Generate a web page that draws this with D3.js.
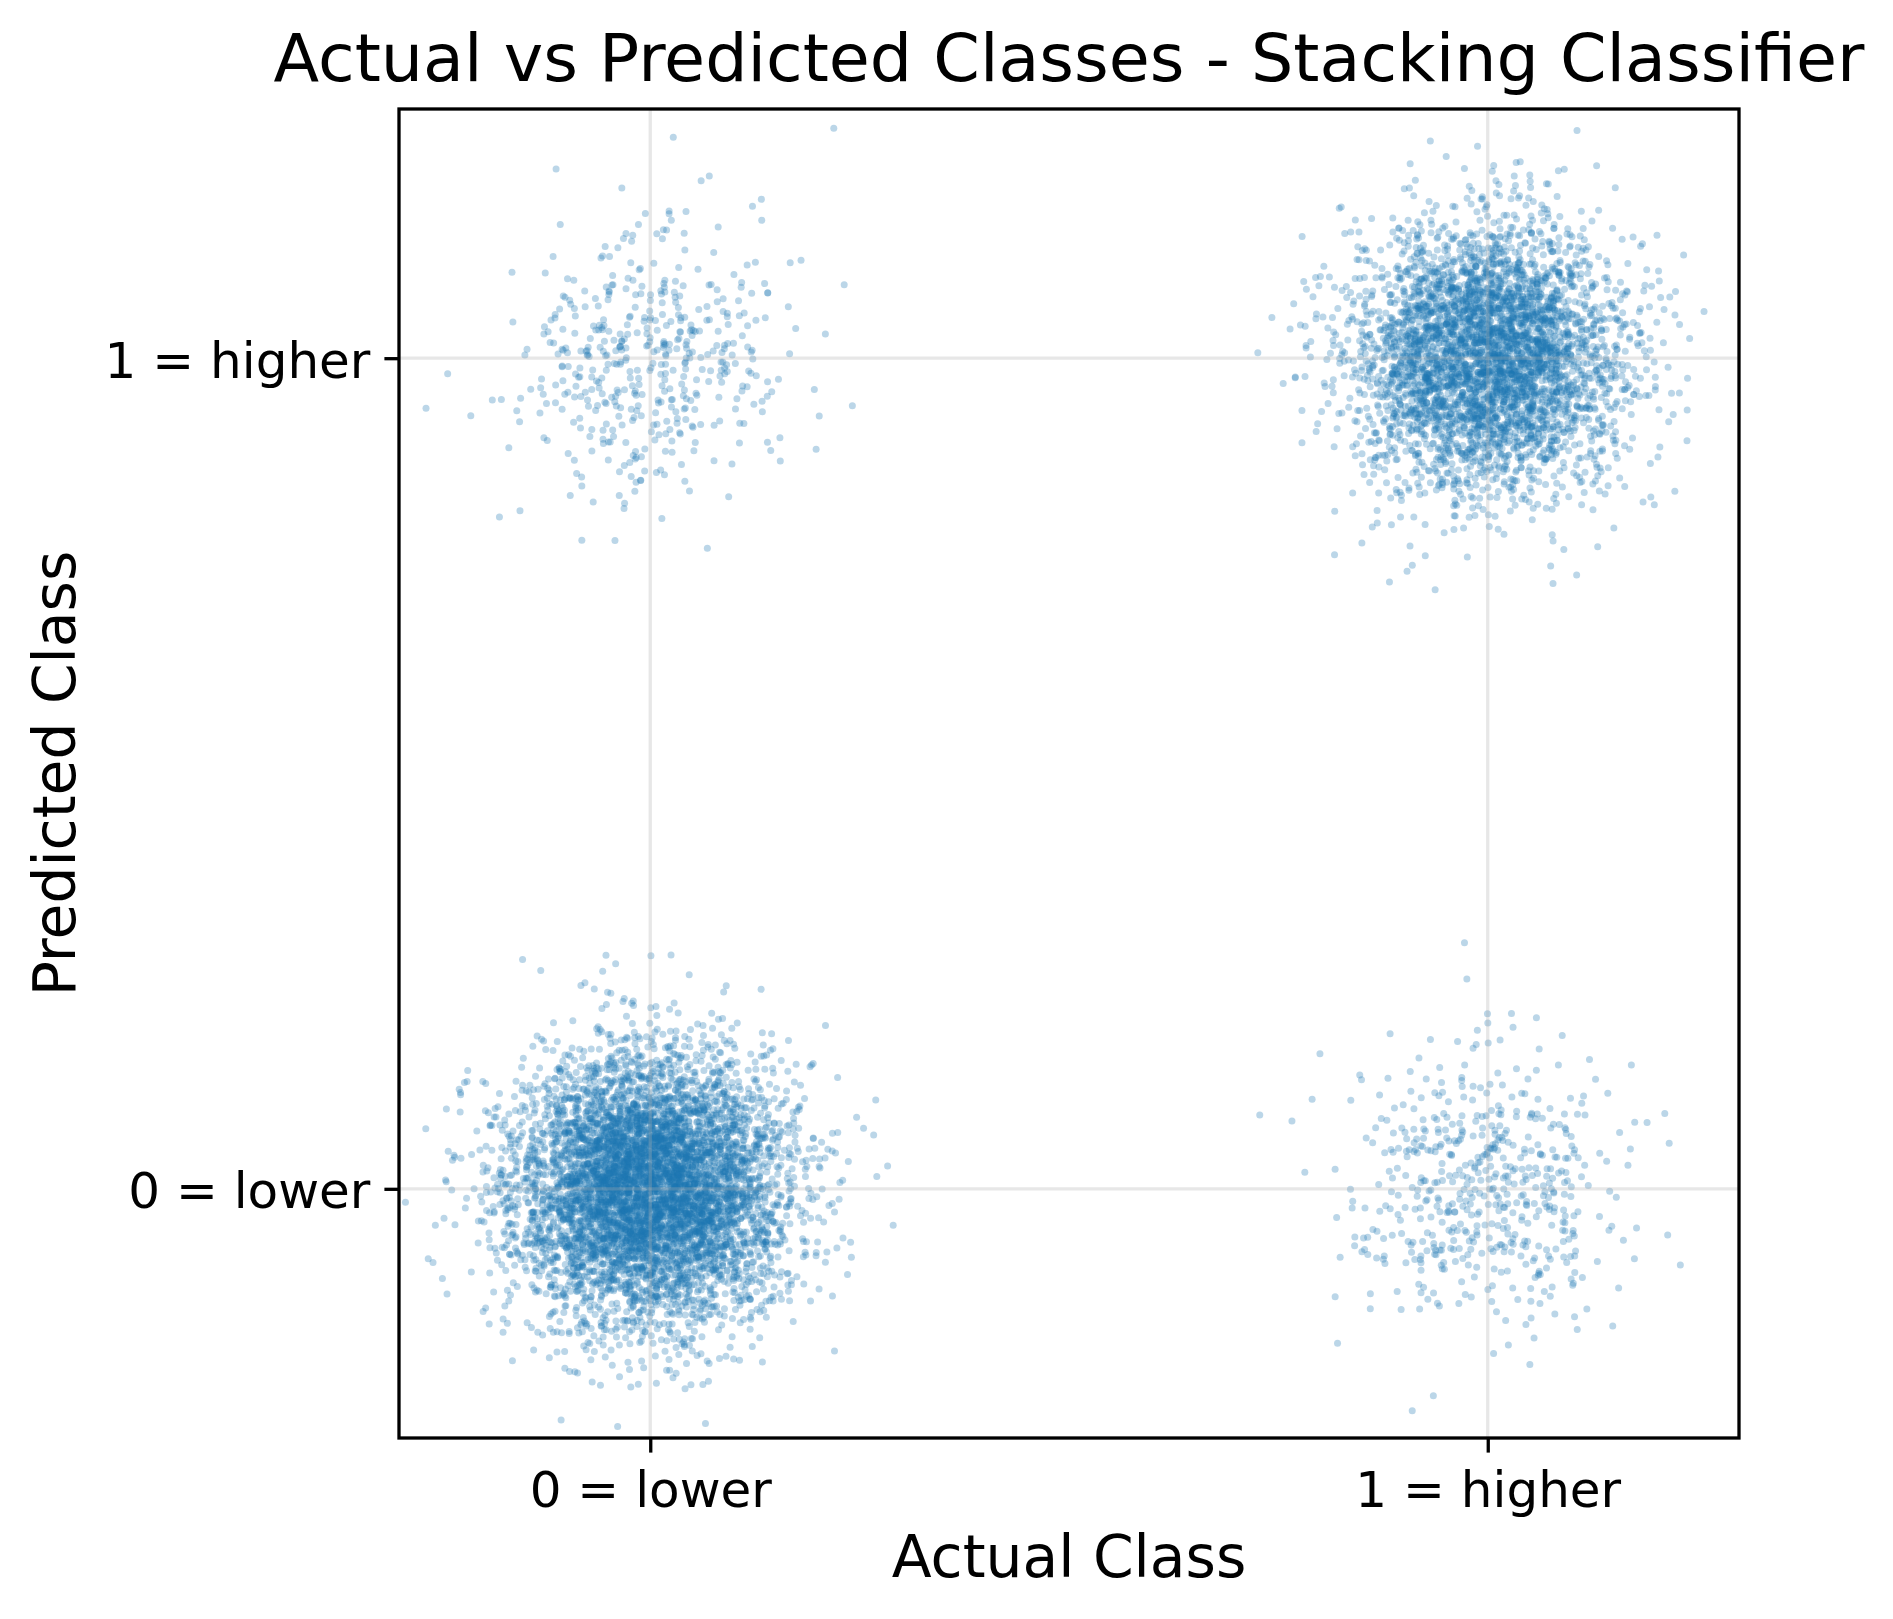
<!DOCTYPE html>
<html>
<head>
<meta charset="utf-8">
<script src="https://cdn.jsdelivr.net/npm/d3@7"></script>
<style>
  html, body { margin: 0; padding: 0; background: #fff; }
  svg { display: block; }
  text { font-family: "DejaVu Sans", sans-serif; fill: #000; }
</style>
</head>
<body>
<svg id="chart" width="1893" height="1619"></svg>
<script>
// ---- data ----
const classLabels = ["0 = lower", "1 = higher"];      // tick labels on both axes
const classValues = [0, 1];
// confusion-matrix cells: actual class, predicted class, number of jittered points
const cellActual    = [0, 0, 1, 1];
const cellPredicted = [0, 1, 0, 1];
const cellCounts    = [6200, 480, 560, 4100];
const jitterSd = 0.08;           // jitter spread used in the plot
const titleText = "Actual vs Predicted Classes - Stacking Classifier";
const xLabelText = "Actual Class";
const yLabelText = "Predicted Class";

// ---- layout ----
const svg = d3.select("#chart");
const m = { left: 399, top: 109, width: 1340, height: 1329 };
const x = d3.scaleLinear().domain([-0.3, 1.3]).range([m.left, m.left + m.width]);
const y = d3.scaleLinear().domain([-0.3, 1.3]).range([m.top + m.height, m.top]);

// build jittered points deterministically (seeded)
const rng = d3.randomNormal.source(d3.randomLcg(0.4217))(0, jitterSd);
const points = [];
cellCounts.forEach((n, i) => {
  for (let k = 0; k < n; k++) {
    points.push({ a: cellActual[i] + rng(), p: cellPredicted[i] + rng() });
  }
});
d3.shuffle(points, d3.randomLcg(0.77));

svg.append("defs").append("clipPath").attr("id", "clip")
  .append("rect").attr("x", m.left).attr("y", m.top)
  .attr("width", m.width).attr("height", m.height);

// points
svg.append("g").attr("clip-path", "url(#clip)")
  .selectAll("circle").data(points).join("circle")
  .attr("cx", d => x(d.a)).attr("cy", d => y(d.p))
  .attr("r", 3.5)
  .attr("fill", "#1f77b4").attr("fill-opacity", 0.3);

// grid (drawn above points like matplotlib)
const grid = svg.append("g");
grid.selectAll("line.gx").data(classValues).join("line")
  .attr("x1", d => x(d)).attr("x2", d => x(d))
  .attr("y1", m.top).attr("y2", m.top + m.height)
  .attr("stroke", "#b0b0b0").attr("stroke-opacity", 0.3).attr("stroke-width", 3.3);
grid.selectAll("line.gy").data(classValues).join("line")
  .attr("y1", d => y(d)).attr("y2", d => y(d))
  .attr("x1", m.left).attr("x2", m.left + m.width)
  .attr("stroke", "#b0b0b0").attr("stroke-opacity", 0.3).attr("stroke-width", 3.3);

// axes
const xAxis = d3.axisBottom(x).tickValues(classValues).tickFormat((d, i) => classLabels[i])
  .tickSize(14.6).tickPadding(14);
const yAxis = d3.axisLeft(y).tickValues(classValues).tickFormat((d, i) => classLabels[i])
  .tickSize(14.6).tickPadding(14);

const gx = svg.append("g").attr("transform", `translate(0,${m.top + m.height})`).call(xAxis);
const gy = svg.append("g").attr("transform", `translate(${m.left},0)`).call(yAxis);
[gx, gy].forEach(g => {
  g.select(".domain").remove();
  g.selectAll(".tick line").attr("stroke", "#000").attr("stroke-width", 3.3);
  g.selectAll(".tick text").attr("font-family", "DejaVu Sans").attr("font-size", 50).attr("fill", "#000");
});
gx.selectAll(".tick text").attr("dy", null).attr("y", 69);
gy.selectAll(".tick text").attr("dy", "0.38em");

// frame
svg.append("rect").attr("x", m.left).attr("y", m.top)
  .attr("width", m.width).attr("height", m.height)
  .attr("fill", "none").attr("stroke", "#000").attr("stroke-width", 3.3);

// title and labels
svg.append("text").attr("x", m.left + m.width / 2).attr("y", 81)
  .attr("text-anchor", "middle").attr("font-size", 66.7).text(titleText);
svg.append("text").attr("x", m.left + m.width / 2).attr("y", 1577)
  .attr("text-anchor", "middle").attr("font-size", 58.3).text(xLabelText);
svg.append("text").attr("transform", `translate(75,${m.top + m.height / 2}) rotate(-90)`)
  .attr("text-anchor", "middle").attr("font-size", 58.3).text(yLabelText);
</script>
</body>
</html>
